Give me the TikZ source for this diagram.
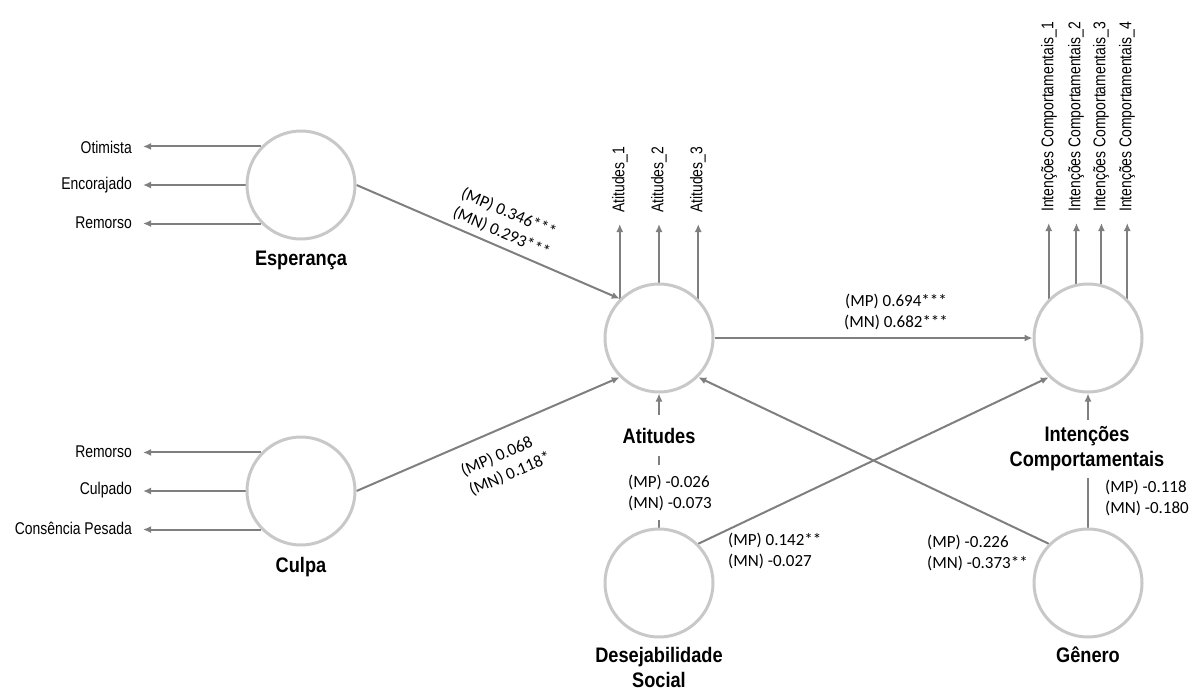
\documentclass[tikz,border=0pt]{standalone}
\usepackage{fontspec}
\setmainfont{Carlito}
\newfontfamily\indfont[FakeStretch=0.82]{Liberation Sans}
\newfontfamily\latfont[FakeStretch=0.866]{Liberation Sans}
\usetikzlibrary{arrows.meta,backgrounds}
\definecolor{arrgray}{HTML}{7F7F7F}
\definecolor{circgray}{HTML}{C8C8C8}
\begin{document}
\begin{tikzpicture}[x=1pt,y=-1pt,
  latent/.style={circle, draw=circgray, line width=3pt, minimum size=108pt, inner sep=0pt},
  arr/.style={draw=arrgray, line width=2pt, -{Latex[length=8pt,width=7pt]}},
  ind/.style={font=\indfont\fontsize{17}{20}\selectfont, inner xsep=11pt, inner ysep=2pt},
  latlabel/.style={font=\latfont\bfseries\fontsize{21}{25}\selectfont, align=center, inner sep=0pt},
  coef/.style={font=\fontsize{17}{21}\selectfont, align=left, inner sep=2pt},
  whitebox/.style={fill=white}]
\useasboundingbox (0,0) rectangle (1194,688);

% latent variables
\node[latent] (esp) at (301,185) {};
\node[latent] (cul) at (301,491) {};
\node[latent] (att) at (659,338) {};
\node[latent] (int) at (1088,338) {};
\node[latent] (des) at (659,583) {};
\node[latent] (gen) at (1088,583) {};

% latent labels
\node[latlabel] (lesp) at (301,260) {Esperança};
\node[latlabel] (lcul) at (301,567) {Culpa};
\node[latlabel, whitebox, inner ysep=12.5pt] (latt) at (659,435.5) {Atitudes};
\node[latlabel, whitebox, inner ysep=7pt] (lint) at (1087,449) {Intenções\\Comportamentais};
\node[latlabel, anchor=north] (ldes) at (659,647) {Desejabilidade\\Social};
\node[latlabel, anchor=north] (lgen) at (1088,647) {Gênero};

% indicators
\node[ind, anchor=east] (e1) at (143,147) {Otimista};
\node[ind, anchor=east] (e2) at (143,185) {Encorajado};
\node[ind, anchor=east] (e3) at (143,223) {Remorso};
\node[ind, anchor=east] (c1) at (143,452) {Remorso};
\node[ind, anchor=east] (c2) at (143,490) {Culpado};
\node[ind, anchor=east] (c3) at (143,528) {Consência Pesada};
\node[ind, rotate=90, anchor=west] (a1) at (620,224) {Atitudes\_1};
\node[ind, rotate=90, anchor=west] (a2) at (659,224) {Atitudes\_2};
\node[ind, rotate=90, anchor=west] (a3) at (698,224) {Atitudes\_3};
\node[ind, rotate=90, anchor=west] (i1) at (1049,223) {Intenções Comportamentais\_1};
\node[ind, rotate=90, anchor=west] (i2) at (1076,223) {Intenções Comportamentais\_2};
\node[ind, rotate=90, anchor=west] (i3) at (1101,223) {Intenções Comportamentais\_3};
\node[ind, rotate=90, anchor=west] (i4) at (1127,223) {Intenções Comportamentais\_4};

% coefficients (unrotated)
\node[coef, align=center] (kai) at (896,312) {(MP) 0.694***\\(MN) 0.682***};
\node[coef, whitebox, anchor=west, inner ysep=10pt] (kda) at (626,492.5) {(MP) -0.026\\(MN) -0.073};
\node[coef, anchor=west] (kdi) at (726,551) {(MP) 0.142**\\(MN) -0.027};
\node[coef, anchor=west] (kga) at (925,553) {(MP) -0.226\\(MN) -0.373**};
\node[coef, anchor=west] (kgi) at (1103,497.5) {(MP) -0.118\\(MN) -0.180};

\begin{pgfonlayer}{background}
% indicator arrows
\draw[arr] (esp.136) -- (esp.136 -| e1.east);
\draw[arr] (esp.west) -- (esp.west -| e2.east);
\draw[arr] (esp.224) -- (esp.224 -| e3.east);
\draw[arr] (cul.136) -- (cul.136 -| c1.east);
\draw[arr] (cul.west) -- (cul.west -| c2.east);
\draw[arr] (cul.224) -- (cul.224 -| c3.east);
\draw[arr] (att.north west) -- (att.north west |- a1.west);
\draw[arr] (att.north) -- (att.north |- a2.west);
\draw[arr] (att.north east) -- (att.north east |- a3.west);
\draw[arr] (int.north west) -- (int.north west |- i1.west);
\draw[arr] (int.102.5) -- (int.102.5 |- i2.west);
\draw[arr] (int.76.5) -- (int.76.5 |- i3.west);
\draw[arr] (int.north east) -- (int.north east |- i4.west);

% structural paths
\draw[arr] (esp.east) -- node[coef, sloped, pos=0.53, above=3.5pt, align=left] (kea) {(MP) 0.346***\\(MN) 0.293***} (att.north west);
\draw[arr] (cul.east) -- node[coef, sloped, pos=0.515, below=14pt, align=left] (kca) {(MP) 0.068\\(MN) 0.118*} (att.south west);
\draw[arr] (att.east) -- (int.west);
\draw[arr] (des.north) -- (att.south);
\draw[arr] (des.north east) -- (int.south west);
\draw[arr] (gen.north west) -- (att.south east);
\draw[arr] (gen.north) -- (int.south);
\end{pgfonlayer}
\end{tikzpicture}
\end{document}
